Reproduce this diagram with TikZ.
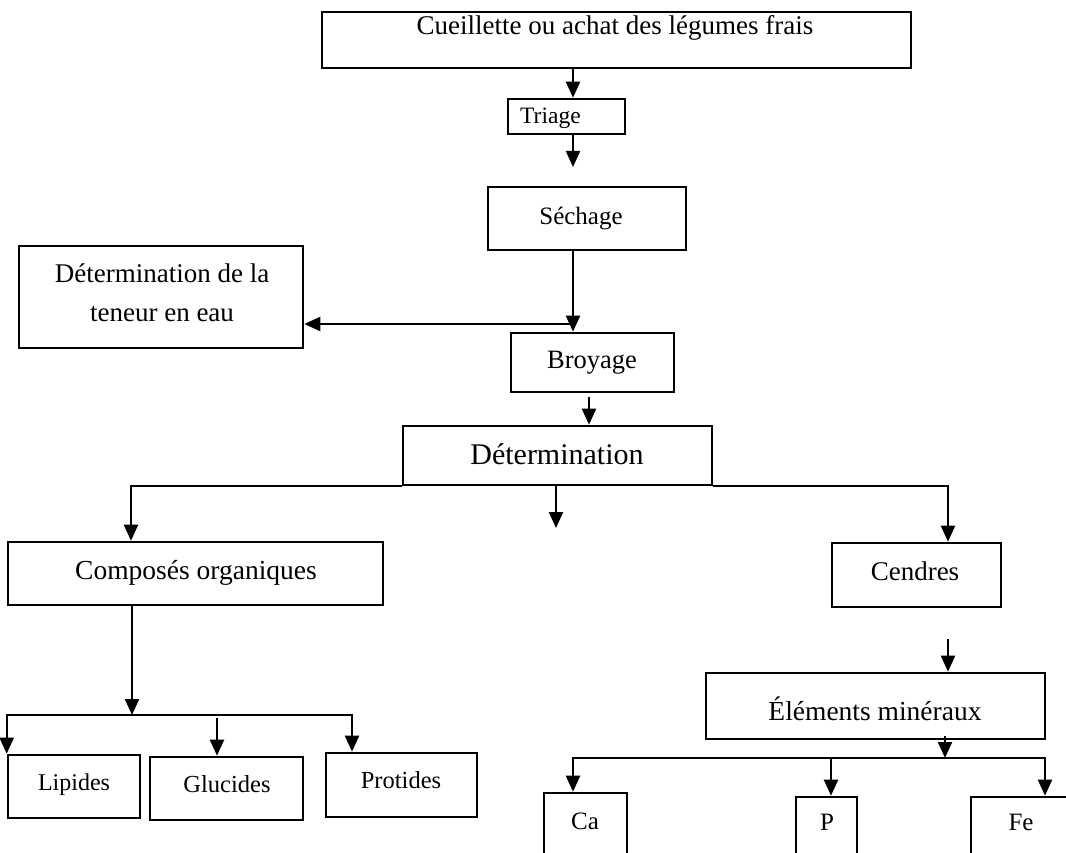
\documentclass[tikz,border=0pt]{standalone}
\usepackage{fontspec}
\setmainfont{Liberation Serif}
\usetikzlibrary{arrows.meta}
\begin{document}
\begin{tikzpicture}[x=1pt,y=-1pt,
  box/.style={draw,line width=2.6pt,inner sep=0pt},
  lbl/.style={anchor=base,inner sep=0pt,font=\fontsize{27}{32}\selectfont},
  slbl/.style={anchor=base,inner sep=0pt,font=\fontsize{24}{28}\selectfont},
  ln/.style={line width=2.2pt},
  arr/.style={line width=2.2pt,-{Triangle[length=16pt,width=14pt]}}]
\useasboundingbox (0,0) rectangle (1066,853);
\fill[white] (0,0) rectangle (1066,853);
\clip (0,0) rectangle (1066,853);

% boxes
\node[box,minimum width=589,minimum height=56] (cue) at (616.5,40) {};
\node[box,minimum width=117,minimum height=35] (tri) at (566.5,116.5) {};
\node[box,minimum width=198,minimum height=63] (sec) at (587,218.5) {};
\node[box,minimum width=284,minimum height=102] (ten) at (161,297) {};
\node[box,minimum width=163,minimum height=59] (bro) at (592.5,362.5) {};
\node[box,minimum width=309,minimum height=59] (det) at (557.5,455.5) {};
\node[box,minimum width=375,minimum height=63] (com) at (195.5,573.5) {};
\node[box,minimum width=169,minimum height=64] (cen) at (916.5,575) {};
\node[box,minimum width=339,minimum height=66] (ele) at (875.5,706) {};
\node[box,minimum width=132,minimum height=63] (lip) at (74,786.5) {};
\node[box,minimum width=153,minimum height=63] (glu) at (226.5,788.5) {};
\node[box,minimum width=151,minimum height=64] (pro) at (401.5,785) {};
\node[box,minimum width=83,minimum height=107] (ca) at (585.5,846.5) {};
\node[box,minimum width=61,minimum height=103] (pb) at (826.5,848.5) {};
\node[box,minimum width=129,minimum height=103] (fe) at (1035.5,848.5) {};

% texts
\node[lbl] (cuet) at (615,35) {Cueillette ou achat des légumes frais};
\node[anchor=base west,inner sep=0pt,font=\fontsize{23.5}{28}\selectfont] (trit) at (520,124) {Triage};
\node[slbl,font=\fontsize{25}{30}\selectfont] (sect) at (581,225) {Séchage};
\node[lbl] (ten1) at (162,283) {Détermination de la};
\node[lbl] (ten2) at (162,321) {teneur en eau};
\node[lbl,font=\fontsize{26.5}{32}\selectfont] (brot) at (592,368) {Broyage};
\node[lbl,font=\fontsize{30}{36}\selectfont] (dett) at (557,464) {Détermination};
\node[lbl,font=\fontsize{27.5}{32}\selectfont] (comt) at (196,579) {Composés organiques};
\node[lbl] (cent) at (915,580) {Cendres};
\node[lbl,font=\fontsize{27.5}{32}\selectfont] (elet) at (875,720) {Éléments minéraux};
\node[slbl] (lipt) at (74,790) {Lipides};
\node[slbl,font=\fontsize{24.5}{28}\selectfont] (glut) at (227,792) {Glucides};
\node[slbl,font=\fontsize{24.5}{28}\selectfont] (prot) at (401,788) {Protides};
\node[slbl,font=\fontsize{25}{30}\selectfont] (cat) at (585,829) {Ca};
\node[slbl,font=\fontsize{25}{30}\selectfont] (pt) at (827,830) {P};
\node[slbl,font=\fontsize{25}{30}\selectfont] (fet) at (1021,830) {Fe};

% helper coordinates
\coordinate (xA) at (573,0);
\coordinate (a2) at (573,167);
\coordinate (h0) at (570,324);
\coordinate (b0) at (589,397);
\coordinate (xB) at (589,0);
\coordinate (xL) at (131,0);
\coordinate (xR) at (948,0);
\coordinate (xM) at (556,0);
\coordinate (mtip) at (556,528);
\coordinate (xC) at (132,0);
\coordinate (b1) at (132,715);
\coordinate (xP) at (352,0);
\coordinate (xG) at (217,0);
\coordinate (c0) at (948,639);
\coordinate (e0) at (945,736);
\coordinate (e1) at (945,758);
\coordinate (xCa) at (573,0);
\coordinate (xPP) at (831,0);
\coordinate (xFe) at (1045,0);

% connectors
\draw[arr] (cue.south -| xA) -- (tri.north -| xA);
\draw[arr] (tri.south -| xA) -- (a2);
\draw[arr] (sec.south -| xA) -- (bro.north -| xA);
\draw[arr] (h0) -- (ten.east |- h0);
\draw[arr] (b0) -- (det.north -| xB);
\draw[arr] (det.south west) -| (com.north -| xL);
\draw[arr] (det.south east) -| (cen.north -| xR);
\draw[arr] (det.south -| xM) -- (mtip);
\draw[arr] (com.south -| xC) -- (b1);
\draw[arr] (b1) -| (lip.north west);
\draw[arr] (b1) -| (pro.north -| xP);
\draw[arr] (xG |- b1) ++(0,3) -- (glu.north -| xG);
\draw[arr] (c0) -- (ele.north -| c0);
\draw[arr] (e0) -- (e1);
\draw[arr] (e1) -| (ca.north -| xCa);
\draw[arr] (e1) -| (fe.north -| xFe);
\draw[arr] (xPP |- e1) -- (pb.north -| xPP);
\end{tikzpicture}
\end{document}
